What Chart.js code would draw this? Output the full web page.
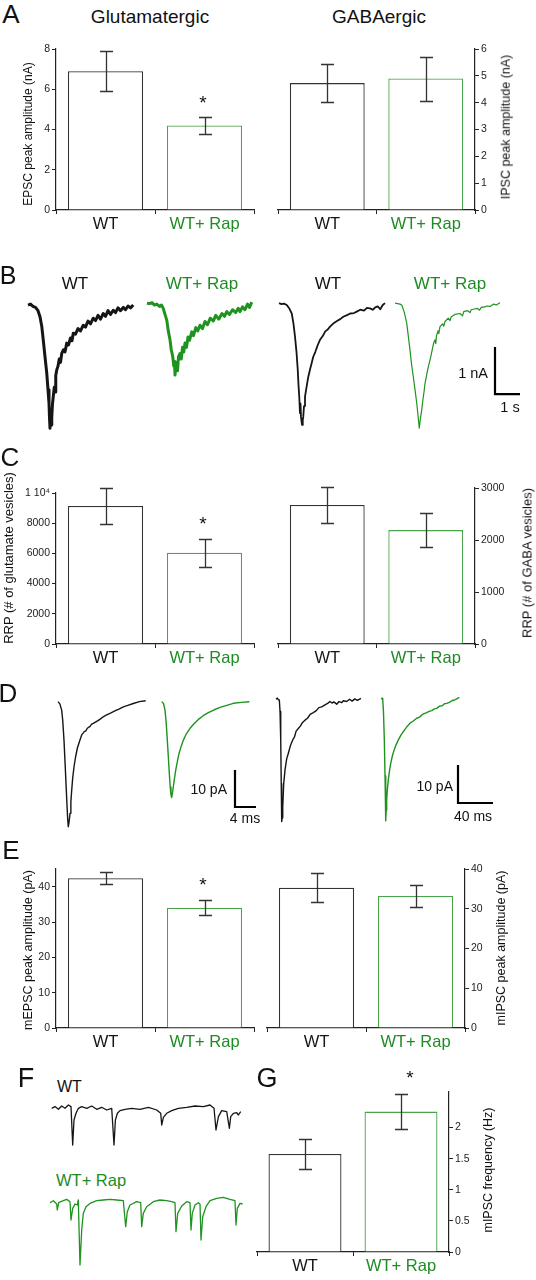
<!DOCTYPE html>
<html>
<head>
<meta charset="utf-8">
<script src="https://cdn.jsdelivr.net/npm/chart.js@4.4.1/dist/chart.umd.min.js"></script>
<style>
  html,body{margin:0;padding:0;background:#fff;}
  #page{position:relative;width:536px;height:1280px;overflow:hidden;background:#fff;font-family:'Liberation Sans',Arial,Helvetica,sans-serif;}
  canvas{position:absolute;}
  .t{position:absolute;white-space:nowrap;line-height:1;color:#111;z-index:5;}
</style>
</head>
<body>
<div id="page"></div>
<script>
// ---------------- DATA ----------------
const groups = ['WT', 'WT+ Rap'];

// A: evoked peak amplitudes (nA)
const epscMean = [6.9, 4.2];
const epscSem  = [1.0, 0.44];
const ipscMean = [4.73, 4.9];
const ipscSem  = [0.72, 0.82];

// C: readily releasable pool (# vesicles)
const rrpGluMean = [9140, 6050];
const rrpGluSem  = [1210, 930];
const rrpGabaMean = [2675, 2190];
const rrpGabaSem  = [340, 326];

// E: miniature peak amplitudes (pA)
const mepscMean = [42.4, 34.05];
const mepscSem  = [1.75, 2.15];
const mipscMean = [35.3, 33.2];
const mipscSem  = [3.65, 2.65];

// G: mIPSC frequency (Hz)
const mipscFreqMean = [1.575, 2.255];
const mipscFreqSem  = [0.235, 0.285];

// B: evoked response traces [time s, current nA]
const traceB_WT_glu = [[0,0],[0.1,0.02],[0.2,-0.03],[0.3,-0.05],[0.4,-0.12],[0.48,-0.25],[0.55,-0.45],[0.61,-0.74],[0.68,-1.1],[0.75,-1.45],[0.8,-1.8],[0.84,-2.09],[0.86,-2.4],[0.88,-2.62],[0.91,-2.3],[0.93,-2.55],[0.95,-2.38],[0.98,-2.1],[1.01,-1.95],[1.05,-1.75],[1.08,-1.85],[1.11,-1.5],[1.15,-1.38],[1.2,-1.3],[1.25,-1.15],[1.3,-1.22],[1.35,-1.03],[1.42,-0.95],[1.48,-1.0],[1.55,-0.81],[1.62,-0.85],[1.7,-0.7],[1.76,-0.76],[1.81,-0.6],[1.9,-0.62],[2.0,-0.5],[2.1,-0.55],[2.21,-0.43],[2.3,-0.47],[2.4,-0.34],[2.5,-0.4],[2.61,-0.28],[2.7,-0.33],[2.8,-0.22],[2.9,-0.3],[3.01,-0.18],[3.1,-0.24],[3.2,-0.12],[3.3,-0.2],[3.41,-0.11],[3.5,-0.16],[3.6,-0.06],[3.7,-0.12],[3.81,-0.05],[3.9,-0.1],[4.0,-0.02],[4.1,-0.06],[4.21,0]];
const traceB_Rap_glu = [[0,0.04],[0.1,0.03],[0.2,0.05],[0.3,0.0],[0.39,0.02],[0.5,-0.03],[0.58,0.0],[0.65,-0.07],[0.72,-0.2],[0.79,-0.32],[0.85,-0.55],[0.92,-0.74],[0.97,-0.95],[1.03,-1.1],[1.07,-1.3],[1.1,-1.2],[1.12,-1.49],[1.15,-1.3],[1.19,-1.24],[1.22,-1.4],[1.26,-1.1],[1.32,-1.03],[1.37,-1.15],[1.42,-0.9],[1.47,-1.0],[1.52,-0.81],[1.58,-0.9],[1.64,-0.68],[1.7,-0.75],[1.79,-0.57],[1.86,-0.65],[1.95,-0.48],[2.03,-0.55],[2.12,-0.43],[2.22,-0.5],[2.32,-0.35],[2.42,-0.42],[2.53,-0.28],[2.65,-0.34],[2.75,-0.22],[2.87,-0.3],[3.0,-0.18],[3.1,-0.24],[3.19,-0.14],[3.3,-0.2],[3.42,-0.1],[3.55,-0.16],[3.65,-0.07],[3.72,-0.14],[3.82,-0.04],[3.92,-0.1],[4.02,0.02],[4.1,-0.05],[4.19,0.06]];
const traceB_WT_gaba = [[0,0.04],[0.1,0.02],[0.2,0.03],[0.31,0],[0.42,-0.08],[0.51,-0.18],[0.58,-0.4],[0.64,-0.67],[0.7,-1.0],[0.75,-1.38],[0.78,-1.7],[0.81,-1.95],[0.84,-2.3],[0.86,-2.1],[0.88,-2.38],[0.92,-2.55],[0.95,-2.45],[0.97,-2.38],[1.0,-2.15],[1.04,-1.95],[1.1,-1.75],[1.17,-1.53],[1.25,-1.35],[1.3,-1.25],[1.37,-1.1],[1.45,-1.0],[1.55,-0.85],[1.64,-0.74],[1.75,-0.66],[1.85,-0.56],[1.95,-0.52],[2.04,-0.46],[2.2,-0.38],[2.35,-0.33],[2.45,-0.3],[2.57,-0.25],[2.7,-0.22],[2.85,-0.18],[3.0,-0.17],[3.11,-0.14],[3.25,-0.1],[3.4,-0.12],[3.52,-0.06],[3.64,-0.07],[3.75,-0.1],[3.85,-0.05],[3.95,-0.03],[4.05,-0.09],[4.15,0.0],[4.24,0.04]];
const traceB_Rap_gaba = [[0,0.04],[0.1,0.03],[0.2,0.02],[0.27,0],[0.37,-0.15],[0.47,-0.39],[0.53,-0.65],[0.6,-0.96],[0.66,-1.25],[0.73,-1.52],[0.8,-1.8],[0.87,-2.09],[0.92,-2.35],[0.97,-2.62],[1.02,-2.4],[1.07,-2.23],[1.12,-2.0],[1.16,-1.85],[1.2,-1.67],[1.26,-1.5],[1.33,-1.32],[1.4,-1.17],[1.45,-1.05],[1.5,-0.92],[1.55,-0.8],[1.6,-0.74],[1.63,-0.82],[1.66,-0.65],[1.72,-0.55],[1.75,-0.61],[1.8,-0.46],[1.9,-0.4],[1.95,-0.45],[2.0,-0.35],[2.13,-0.28],[2.2,-0.33],[2.25,-0.25],[2.4,-0.2],[2.6,-0.18],[2.7,-0.23],[2.75,-0.14],[2.9,-0.12],[3.0,-0.16],[3.05,-0.1],[3.13,-0.09],[3.3,-0.07],[3.38,-0.11],[3.45,-0.05],[3.6,-0.04],[3.67,-0.02],[3.8,-0.03],[3.95,0.02],[4.05,0.0],[4.2,0.05]];
const scaleB = {t: 1, i: 1, tLabel: '1 s', iLabel: '1 nA'};

// D: averaged miniature events [time ms, current pA]
const traceD_WT_glu = [[0,0.1],[0.35,-0.5],[0.7,-2.2],[0.9,-5],[1.14,-10.3],[1.33,-16],[1.52,-22],[1.7,-27.5],[1.85,-31.9],[1.96,-33.7],[2.1,-32.5],[2.29,-30.1],[2.45,-27],[2.61,-23.8],[2.8,-20.5],[3.05,-17.5],[3.35,-14.8],[3.68,-12.5],[4.1,-10.6],[4.51,-8.9],[5.0,-8.0],[5.3,-7.8],[5.58,-7.1],[6.1,-6.6],[6.4,-6.0],[6.72,-5.8],[7.3,-5.3],[7.98,-4.7],[8.6,-4.0],[9.26,-3.5],[10.0,-3.0],[10.83,-2.4],[11.6,-1.9],[12.44,-1.3],[13.3,-0.9],[14.34,-0.4],[15.5,0.1],[16.7,0.35]];
const traceD_Rap_glu = [[0,0.1],[0.35,-0.4],[0.63,-2.2],[0.85,-5.5],[1.07,-10.3],[1.27,-15],[1.45,-19.3],[1.62,-23],[1.77,-25.1],[1.9,-25.8],[2.05,-24.6],[2.21,-22.9],[2.45,-20.5],[2.67,-18.4],[3.0,-16],[3.3,-13.9],[3.7,-12],[4.13,-10.3],[4.7,-8.6],[5.41,-7.1],[6.2,-5.8],[6.99,-4.7],[7.9,-3.7],[8.89,-2.9],[10,-2.1],[11.12,-1.45],[12.4,-0.9],[13.65,-0.35],[15.2,-0.1],[16.7,0.08]];
const traceD_WT_gaba = [[0,0.2],[1.5,0.5],[2.5,0.1],[3.8,0],[4.6,-3],[5.4,-10.5],[6.0,-22],[6.5,-32],[7.0,-31],[7.7,-28.1],[8.8,-22],[10.3,-18.4],[12.2,-15.5],[14.1,-14],[16.5,-12],[19.1,-10.5],[21,-9.8],[23,-8.2],[25.5,-7.5],[28,-6.8],[30,-6.0],[33.1,-5.3],[36,-4.8],[39,-3.8],[42.6,-3.3],[46,-2.8],[49,-2.0],[52.2,-1.8],[56,-1.3],[59,-0.9],[61.7,-0.4],[64,-0.8],[66,-0.5],[69.4,-1.1],[72,-0.4],[75,-0.7],[77,-0.2],[80.8,-0.4],[84,0.2],[87,-0.3],[90,0.3],[93,-0.1],[97.1,0.4]];
const traceD_Rap_gaba = [[0,0.45],[1.0,0.3],[1.9,0.45],[2.8,-3],[3.8,-10.5],[4.6,-20],[5.4,-31.8],[5.9,-29],[6.5,-26.3],[7.3,-23.5],[8.3,-21.1],[9.6,-18.8],[11.1,-16.7],[12.9,-14.8],[14.9,-13.2],[17.2,-11.8],[19.8,-10.5],[22.6,-9.3],[25.5,-8.3],[29,-7.2],[33.1,-6.1],[36.5,-5.6],[40.8,-4.8],[44,-4.5],[48,-3.7],[52.2,-3.3],[55,-3.0],[58,-2.8],[60.5,-2.4],[63.6,-2.2],[67,-1.6],[70,-1.5],[72.5,-1.0],[75.1,-0.9],[78,-0.6],[81,-0.2],[84,0.0],[86.5,0.3],[89.5,0.7]];
const scaleD_glu  = {t: 4,  i: 10, tLabel: '4 ms',  iLabel: '10 pA'};
const scaleD_gaba = {t: 40, i: 10, tLabel: '40 ms', iLabel: '10 pA'};

// F: mIPSC recordings [time a.u., current a.u.]
const traceF_WT = [[0,0],[3.3,1.7],[6.7,-1],[10,2.3],[13.3,0],[16.7,3.3],[19.3,1.7],[21,-36.7],[22.3,-11.7],[24.3,-5],[26.7,0],[30,1.7],[35,0],[40,2.3],[45,-1],[50,1],[55,-1.7],[60,0],[62.3,-36.7],[63.7,-11.7],[65.7,-5],[68.3,-2.3],[73.3,-1],[80,0],[88.3,-1],[96.7,1],[105,-1.7],[109,-5],[110,-16.7],[111.7,-9],[115,-5],[120,-2.3],[126.7,0],[135,1],[143.3,2.3],[151.7,1.7],[158.3,3.3],[162.3,0],[164.3,-21.7],[166.7,-8.3],[170,-2.3],[175,-3.3],[177.7,-20],[179,-8.3],[181.7,-5],[185,-4.3],[186.7,-6.7],[189,-3.3]];
const traceF_Rap = [[0,-1],[3.3,1],[6.7,-2.3],[7.3,-8.3],[8.7,-1],[13.3,1],[16.7,2.3],[20,0],[21,-18.3],[22.7,-6.7],[25,-2.3],[27.3,-3.3],[28.3,1.7],[30,-63.3],[31.7,-28.3],[33.3,-11.7],[36,-5],[40,-1.7],[46.7,1],[53.3,1.7],[60,2.3],[66.7,1.7],[73.3,1],[75.7,-25],[77.3,-10],[80,-3.3],[86.7,0],[90.7,-1],[91.7,-25],[93.3,-11.7],[96.7,-5],[103.3,0],[110,1.7],[116.7,1],[121.7,0],[125,-1],[126,-30],[127.7,-11.7],[131.7,-4.3],[136.7,0],[140,-1],[141,-28.3],[142.3,-11.7],[145,-3.3],[148.3,-1],[150,-2.3],[151,-38.3],[152.7,-15],[156,-5],[160,1],[166.7,3.3],[173.3,4.3],[180,2.3],[185,1],[186,-23.3],[187.3,-6.7],[190,-1.7],[192.7,-2.3]];

// ---------------- STYLE / LAYOUT ----------------
const FONT = "'Liberation Sans', Arial, Helvetica, sans-serif";
const BLACK = '#151515';
const GREEN_TRACE = '#1f931f';
const GREEN_LABEL = '#1e8b24';
const GREEN_BAR = '#4aa34a';
const AXIS = '#222';
Chart.defaults.font.family = FONT;

const page = document.getElementById('page');
function mkCanvas(l, t, w, h) {
  const c = document.createElement('canvas');
  c.width = w; c.height = h;
  c.style.left = l + 'px'; c.style.top = t + 'px';
  c.style.width = w + 'px'; c.style.height = h + 'px';
  page.appendChild(c);
  return c;
}
function txt(s, x, y, size, o) {
  o = o || {};
  const d = document.createElement('div');
  d.className = 't';
  d.textContent = s;
  d.style.fontSize = size + 'px';
  if (o.color) d.style.color = o.color;
  d.style.left = x + 'px'; d.style.top = y + 'px';
  let tx = '-50%';
  if (o.align === 'left') tx = '0';
  if (o.align === 'right') tx = '-100%';
  d.style.transform = 'translate(' + tx + ',-50%)' + (o.rot ? ' rotate(-90deg)' : '');
  page.appendChild(d);
}

const errorBars = {
  id: 'errorBars',
  afterDatasetsDraw(chart, args, opts) {
    const ctx = chart.ctx, ys = chart.scales.y;
    const ds = chart.data.datasets[0];
    const meta = chart.getDatasetMeta(0);
    ctx.save();
    ctx.strokeStyle = opts.color; ctx.lineWidth = opts.width;
    meta.data.forEach((bar, i) => {
      const m = ds.data[i], e = opts.errors[i];
      const x = Math.round(bar.x) + 0.5;
      const yt = Math.round(ys.getPixelForValue(m + e)) + 0.5;
      const yb = Math.round(ys.getPixelForValue(m - e)) + 0.5;
      ctx.beginPath();
      ctx.moveTo(x, yt); ctx.lineTo(x, yb);
      ctx.moveTo(x - opts.cap, yt); ctx.lineTo(x + opts.cap, yt);
      ctx.moveTo(x - opts.cap, yb); ctx.lineTo(x + opts.cap, yb);
      ctx.stroke();
    });
    ctx.restore();
  }
};

function barChart(sp) {
  const AX = 50, PAD = 8, XH = 40, SIDE = 4;
  const left = sp.side === 'left';
  const cl = left ? sp.L - AX : sp.L - SIDE;
  const ct = sp.T - PAD;
  const cw = (sp.R - sp.L) + AX + SIDE;
  const ch = (sp.B - sp.T) + PAD + XH;
  const cv = mkCanvas(cl, ct, cw, ch);
  new Chart(cv, {
    type: 'bar',
    data: {
      labels: groups,
      datasets: [{
        data: sp.means,
        backgroundColor: '#ffffff',
        borderColor: ['#333333', GREEN_BAR],
        borderWidth: 1.3,
        borderSkipped: 'start',
        barPercentage: 0.76,
        categoryPercentage: 1
      }]
    },
    options: {
      responsive: false, animation: false, devicePixelRatio: 1,
      layout: {autoPadding: false, padding: {top: PAD, bottom: 0, left: left ? 0 : SIDE, right: left ? SIDE : 0}},
      plugins: {legend: {display: false}, tooltip: {enabled: false},
        errorBars: {errors: sp.sems, color: '#333', width: 1.3, cap: 6.5}},
      scales: {
        x: {
          type: 'category', offset: true,
          grid: {offset: true, drawOnChartArea: false, drawTicks: true, tickLength: 4, color: AXIS, lineWidth: 1},
          border: {display: true, color: AXIS, width: 1.2},
          ticks: {padding: 1, font: {size: 16.5}, color: c => (c.index === 0 ? BLACK : GREEN_LABEL), maxRotation: 0},
          afterFit: s => { s.height = XH; s.paddingLeft = 0; s.paddingRight = 0; }
        },
        y: {
          type: 'linear', position: sp.side, min: 0, max: sp.max,
          grid: {drawOnChartArea: false, drawTicks: true, tickLength: 4, color: AXIS, lineWidth: 1},
          border: {display: true, color: AXIS, width: 1.2},
          ticks: {stepSize: sp.step, padding: 2, color: AXIS, font: {size: 10.5},
            callback: v => (sp.fmt ? sp.fmt(v) : String(v))},
          afterBuildTicks: s => { s.ticks = s.ticks.filter(t => t.value <= sp.keep + 1e-9); },
          afterFit: s => { s.width = AX; s.paddingTop = 0; s.paddingBottom = 0; }
        }
      }
    },
    plugins: [errorBars]
  });
}

function traceChart(l, t, w, h, xMax, yMin, yMax, sets) {
  const cv = mkCanvas(l, t, w, h);
  new Chart(cv, {
    type: 'line',
    data: {datasets: sets.map(s => ({
      data: s.pts.map(p => ({x: p[0] + s.off, y: p[1]})),
      borderColor: s.color, borderWidth: s.w, pointRadius: 0, tension: 0, fill: false, clip: false,
      borderJoinStyle: s.join || 'round'
    }))},
    options: {
      responsive: false, animation: false, devicePixelRatio: 1,
      layout: {autoPadding: false, padding: 0},
      plugins: {legend: {display: false}, tooltip: {enabled: false}},
      scales: {
        x: {type: 'linear', display: false, min: 0, max: xMax},
        y: {type: 'linear', display: false, min: yMin, max: yMax}
      }
    }
  });
}
function scaleBar(sb, x0, y0) {
  return {pts: [[0, sb.i + y0], [0, y0], [sb.t, y0]], off: x0, color: '#000', w: 2.2, join: 'miter'};
}

// ---------------- PANEL A ----------------
barChart({L: 56, R: 254, T: 49, B: 210, side: 'left', max: 8, step: 2, keep: 8, means: epscMean, sems: epscSem});
barChart({L: 278, R: 475, T: 49, B: 210, side: 'right', max: 6, step: 1, keep: 6, means: ipscMean, sems: ipscSem});
txt('A', 11, 14, 26);
txt('Glutamatergic', 150, 16, 19);
txt('GABAergic', 379, 16, 19);
txt('EPSC peak amplitude (nA)', 28, 134, 12, {rot: true});
txt('IPSC peak amplitude (nA)', 506, 127, 12.5, {rot: true});
txt('*', 203, 102, 19);

// ---------------- PANEL B ----------------
// canvas: 25 px per s, 47 px per nA, 0 nA at y=305
traceChart(0, 290, 536, 150, 536 / 25, 0.32 - 150 / 47, 0.32, [
  {pts: traceB_WT_glu, off: 1.12, color: BLACK, w: 3},
  {pts: traceB_Rap_glu, off: 5.88, color: GREEN_TRACE, w: 3},
  {pts: traceB_WT_gaba, off: 11.16, color: BLACK, w: 1.8},
  {pts: traceB_Rap_gaba, off: 15.8, color: GREEN_TRACE, w: 1.2},
  scaleBar(scaleB, 19.8, -1.894)
]);
txt('B', 8, 275, 25);
txt('WT', 75, 283, 17);
txt('WT+ Rap', 202, 283, 17, {color: GREEN_LABEL});
txt('WT', 328, 283, 17);
txt('WT+ Rap', 450, 283, 17, {color: GREEN_LABEL});
txt(scaleB.iLabel, 488, 373, 14.5, {align: 'right'});
txt(scaleB.tLabel, 510, 407, 14.5);

// ---------------- PANEL C ----------------
barChart({L: 56, R: 254, T: 493, B: 644, side: 'left', max: 10000, step: 2000, keep: 10000,
  means: rrpGluMean, sems: rrpGluSem, fmt: v => (v === 10000 ? '1 10\u2074' : String(v))});
barChart({L: 278, R: 475, T: 488, B: 644, side: 'right', max: 3000, step: 1000, keep: 3000,
  means: rrpGabaMean, sems: rrpGabaSem});
txt('C', 10, 457, 26);
txt('RRP (# of glutamate vesicles)', 8, 558, 13, {rot: true});
txt('RRP (# of GABA vesicles)', 527, 563, 13, {rot: true});
txt('*', 203, 523, 19);

// ---------------- PANEL D ----------------
// left: 5.25 px per ms, 3.7 px per pA, 0 pA at y=702
traceChart(0, 690, 270, 145, 270 / 5.25, 12 / 3.7 - 145 / 3.7, 12 / 3.7, [
  {pts: traceD_WT_glu, off: 11.05, color: BLACK, w: 1.4},
  {pts: traceD_Rap_glu, off: 30.8, color: GREEN_TRACE, w: 1.4},
  scaleBar(scaleD_glu, 44.76, -28.38)
]);
// right: 0.875 px per ms, 3.8 px per pA, 0 pA at y=700
traceChart(260, 690, 276, 145, 276 / 0.875, 10 / 3.8 - 145 / 3.8, 10 / 3.8, [
  {pts: traceD_WT_gaba, off: 18.29, color: BLACK, w: 1.4},
  {pts: traceD_Rap_gaba, off: 138.29, color: GREEN_TRACE, w: 1.4},
  scaleBar(scaleD_gaba, 226.29, -27.1)
]);
txt('D', 8, 693, 26);
txt(scaleD_glu.iLabel, 227, 789, 14, {align: 'right'});
txt(scaleD_glu.tLabel, 245, 818, 14);
txt(scaleD_gaba.iLabel, 453, 786, 14, {align: 'right'});
txt(scaleD_gaba.tLabel, 473, 816, 14);

// ---------------- PANEL E ----------------
barChart({L: 56, R: 254, T: 869, B: 1028, side: 'left', max: 45, step: 10, keep: 40, means: mepscMean, sems: mepscSem});
barChart({L: 267, R: 465, T: 869, B: 1028, side: 'right', max: 40, step: 10, keep: 40, means: mipscMean, sems: mipscSem});
txt('E', 11, 850, 26);
txt('mEPSC peak amplitude (pA)', 28, 950, 12.5, {rot: true});
txt('mIPSC peak amplitude (pA)', 501, 948, 12.5, {rot: true});
txt('*', 203, 884, 19);

// ---------------- PANEL F ----------------
traceChart(0, 1095, 260, 62, 260, 13.3 - 62, 13.3, [
  {pts: traceF_WT, off: 51.7, color: BLACK, w: 1.3}
]);
traceChart(0, 1190, 260, 85, 260, 11.7 - 85, 11.7, [
  {pts: traceF_Rap, off: 50, color: GREEN_TRACE, w: 1.3}
]);
txt('F', 26, 1078, 27);
txt('WT', 57, 1087, 16, {align: 'left'});
txt('WT+ Rap', 56, 1180, 16.5, {align: 'left', color: GREEN_LABEL});

// ---------------- PANEL G ----------------
barChart({L: 257, R: 449, T: 1092, B: 1252, side: 'right', max: 2.57, step: 0.5, keep: 2.5,
  means: mipscFreqMean, sems: mipscFreqSem});
txt('G', 267, 1078, 27);
txt('mIPSC frequency (Hz)', 488, 1170, 12.5, {rot: true});
txt('*', 410, 1077, 19);
</script>
</body>
</html>
